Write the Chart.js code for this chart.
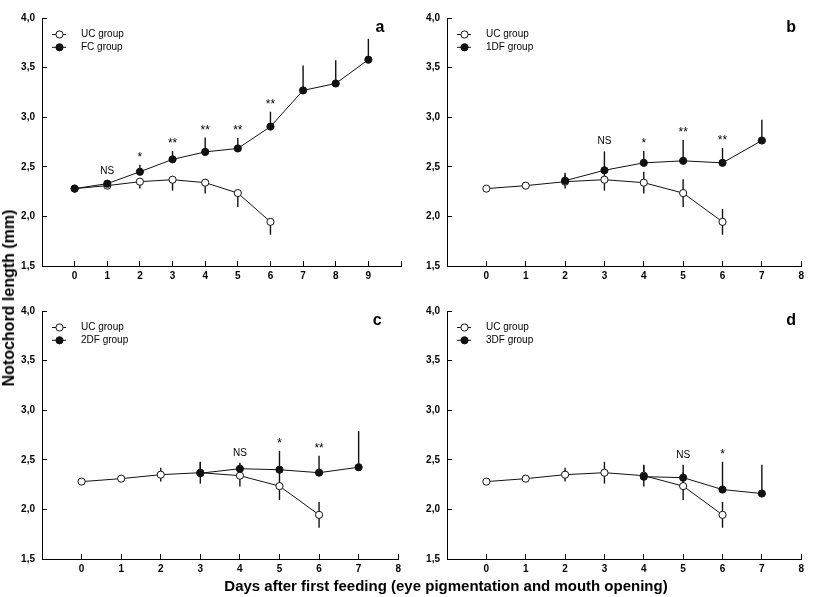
<!DOCTYPE html>
<html>
<head>
<meta charset="utf-8">
<script src="https://cdn.jsdelivr.net/npm/chart.js@4.4.1/dist/chart.umd.min.js"></script>
<style>
  html, body { margin: 0; padding: 0; background: #fff; }
  #wrap { position: relative; width: 813px; height: 597px; overflow: hidden; font-family: "Liberation Sans", Arial, sans-serif; color: #000; }
  .panel { position: absolute; }
  #y-title { position: absolute; left: 9px; top: 298px; transform: translate(-50%, -50%) rotate(-90deg); font-weight: bold; font-size: 16px; white-space: nowrap; }
  #x-title { position: absolute; left: 446px; top: 585px; transform: translate(-50%, -50%); font-weight: bold; font-size: 15px; white-space: nowrap; }
</style>
</head>
<body>
<div id="wrap">
  <canvas id="panel-a" class="panel" width="410" height="290" style="left:0;top:0"></canvas>
  <canvas id="panel-b" class="panel" width="408" height="290" style="left:405px;top:0"></canvas>
  <canvas id="panel-c" class="panel" width="410" height="290" style="left:0;top:293px"></canvas>
  <canvas id="panel-d" class="panel" width="408" height="290" style="left:405px;top:293px"></canvas>
  <div id="y-title">Notochord length (mm)</div>
  <div id="x-title">Days after first feeding (eye pigmentation and mouth opening)</div>
</div>
<script>
// values (mean and error bar length, mm)
const uc_days = [0, 1, 2, 3, 4, 5, 6];
const uc_mean = [2.28, 2.31, 2.35, 2.37, 2.34, 2.235, 1.945];
const uc_err  = [0.01, 0.03, 0.07, 0.11, 0.11, 0.14, 0.13];

const fc_days = [0, 1, 2, 3, 4, 5, 6, 7, 8, 9];
const fc_mean = [2.28, 2.33, 2.45, 2.575, 2.65, 2.685, 2.905, 3.27, 3.34, 3.58];
const fc_err  = [0, 0.03, 0.07, 0.085, 0.145, 0.105, 0.15, 0.25, 0.235, 0.21];

const df1_days = [2, 3, 4, 5, 6, 7];
const df1_mean = [2.36, 2.465, 2.54, 2.56, 2.54, 2.765];
const df1_err  = [0.08, 0.19, 0.12, 0.21, 0.15, 0.21];

const df2_days = [3, 4, 5, 6, 7];
const df2_mean = [2.365, 2.41, 2.40, 2.37, 2.425];
const df2_err  = [0.11, 0.06, 0.19, 0.17, 0.365];

const df3_days = [4, 5, 6, 7];
const df3_mean = [2.33, 2.32, 2.20, 2.16];
const df3_err  = [0.11, 0.13, 0.28, 0.29];

// significance marks over the fed group
const sig_a_days = [1, 2, 3, 4, 5, 6];
const sig_a_text = ['NS', '*', '**', '**', '**', '**'];
const sig_b_days = [3, 4, 5, 6];
const sig_b_text = ['NS', '*', '**', '**'];
const sig_c_days = [4, 5, 6];
const sig_c_text = ['NS', '*', '**'];
const sig_d_days = [5, 6];
const sig_d_text = ['NS', '*'];

const x_ticks_a = [0, 1, 2, 3, 4, 5, 6, 7, 8, 9];
const x_ticks_bcd = [0, 1, 2, 3, 4, 5, 6, 7, 8];
const y_ticks = [1.5, 2.0, 2.5, 3.0, 3.5, 4.0];

const FONT = '"Liberation Sans", Arial, sans-serif';
const INK = '#111';

function points(days, vals)
{
  return days.map((d, i) => ({ x: d, y: vals[i] }));
}

function series(label, days, mean, err, filled, dir, order)
{
  return {
    label: label,
    data: points(days, mean),
    err: err,
    errDir: dir,
    order: order,
    borderColor: INK,
    borderWidth: 1,
    pointRadius: 3.6,
    pointBorderWidth: 1,
    pointBorderColor: INK,
    pointBackgroundColor: filled ? INK : '#fff',
    tension: 0,
    fill: false
  };
}

function panelPlugin(letter, letterDx, sigDays, sigText)
{
  return {
    id: 'panelExtras' + letter,
    beforeDatasetsDraw(chart)
    {
      const { ctx, scales: { x, y } } = chart;
      ctx.save();
      ctx.strokeStyle = INK;
      ctx.lineWidth = 1.4;
      chart.data.datasets.forEach(ds => {
        ds.data.forEach((p, i) => {
          const e = ds.err[i];
          if (!e) return;
          const px = x.getPixelForValue(p.x);
          const y0 = y.getPixelForValue(ds.errDir === 'down' ? p.y : p.y + e);
          const y1 = y.getPixelForValue(ds.errDir === 'up' ? p.y : p.y - e);
          ctx.beginPath();
          ctx.moveTo(px, y0);
          ctx.lineTo(px, y1);
          ctx.stroke();
        });
      });
      ctx.restore();
    },
    afterDatasetsDraw(chart)
    {
      const { ctx, chartArea, scales: { x, y } } = chart;
      ctx.save();

      // significance labels above the error bar of the fed group
      const fed = chart.data.datasets[1];
      ctx.fillStyle = '#000';
      ctx.textAlign = 'center';
      ctx.textBaseline = 'alphabetic';
      sigDays.forEach((d, i) => {
        const k = fed.data.findIndex(p => p.x === d);
        const top = y.getPixelForValue(fed.data[k].y + fed.err[k]);
        const isNS = sigText[i] === 'NS';
        ctx.font = (isNS ? '10px ' : '12px ') + FONT;
        ctx.fillText(sigText[i], x.getPixelForValue(d), top - (isNS ? 7 : 4));
      });

      // legend
      chart.data.datasets.forEach((ds, i) => {
        const ly = chartArea.top + 16.5 + i * 12.8;
        const lx = chartArea.left + 10;
        ctx.strokeStyle = INK;
        ctx.lineWidth = 1;
        ctx.beginPath();
        ctx.moveTo(lx, ly);
        ctx.lineTo(lx + 14, ly);
        ctx.stroke();
        ctx.beginPath();
        ctx.arc(lx + 7.5, ly, 3.6, 0, Math.PI * 2);
        ctx.fillStyle = ds.pointBackgroundColor;
        ctx.fill();
        ctx.stroke();
        ctx.fillStyle = '#000';
        ctx.font = '10px ' + FONT;
        ctx.textAlign = 'left';
        ctx.textBaseline = 'middle';
        ctx.fillText(ds.label, lx + 29, ly);
      });

      // panel letter
      ctx.font = 'bold 16px ' + FONT;
      ctx.textAlign = 'center';
      ctx.textBaseline = 'alphabetic';
      ctx.fillText(letter, chartArea.right + letterDx, chartArea.top + 14);
      ctx.restore();
    }
  };
}

function makePanel(id, cfg)
{
  const tickFont = { family: FONT, size: 10, weight: 'bold' };
  const axisGrid = { drawOnChartArea: false, drawTicks: true, tickLength: -5, color: '#000', lineWidth: 1 };

  new Chart(document.getElementById(id).getContext('2d'),
  {
    type: 'line',
    data:
    {
      datasets:
      [
        series('UC group', uc_days, uc_mean, uc_err, false, cfg.ucDir, 1),
        series(cfg.label, cfg.days, cfg.mean, cfg.err, true, 'up', 0)
      ]
    },
    options:
    {
      responsive: false,
      animation: false,
      events: [],
      layout: { padding: { top: 5, right: cfg.padRight, left: 0, bottom: 0 } },
      plugins: { legend: { display: false }, tooltip: { enabled: false } },
      scales:
      {
        x:
        {
          type: 'linear',
          min: -1,
          max: cfg.xMax,
          ticks:
          {
            stepSize: 1,
            autoSkip: false,
            maxRotation: 0,
            padding: 9,
            color: '#000',
            font: tickFont,
            callback: v => cfg.xTicks.includes(v) ? String(v) : ''
          },
          grid: axisGrid,
          border: { color: '#000', width: 1 },
          afterFit: s => { s.height = 24; }
        },
        y:
        {
          min: 1.5,
          max: 4.0,
          afterBuildTicks: s => { s.ticks = y_ticks.map(v => ({ value: v })); },
          ticks:
          {
            padding: 12,
            color: '#000',
            font: tickFont,
            callback: v => v.toFixed(1).replace('.', ',')
          },
          grid: axisGrid,
          border: { color: '#000', width: 1 },
          afterFit: s => { s.width = 42; }
        }
      }
    },
    plugins: [panelPlugin(cfg.letter, cfg.letterDx, cfg.sigDays, cfg.sigText)]
  });
}

document.addEventListener('DOMContentLoaded', function()
{
  makePanel('panel-a', { label: 'FC group', days: fc_days, mean: fc_mean, err: fc_err, ucDir: 'down',
    xMax: 10, xTicks: x_ticks_a, padRight: 5, letter: 'a', letterDx: -21, sigDays: sig_a_days, sigText: sig_a_text });
  makePanel('panel-b', { label: '1DF group', days: df1_days, mean: df1_mean, err: df1_err, ucDir: 'both',
    xMax: 8, xTicks: x_ticks_bcd, padRight: 4, letter: 'b', letterDx: -10, sigDays: sig_b_days, sigText: sig_b_text });
  makePanel('panel-c', { label: '2DF group', days: df2_days, mean: df2_mean, err: df2_err, ucDir: 'both',
    xMax: 8, xTicks: x_ticks_bcd, padRight: 5, letter: 'c', letterDx: -21, sigDays: sig_c_days, sigText: sig_c_text });
  makePanel('panel-d', { label: '3DF group', days: df3_days, mean: df3_mean, err: df3_err, ucDir: 'both',
    xMax: 8, xTicks: x_ticks_bcd, padRight: 4, letter: 'd', letterDx: -10, sigDays: sig_d_days, sigText: sig_d_text });
});
</script>
</body>
</html>
